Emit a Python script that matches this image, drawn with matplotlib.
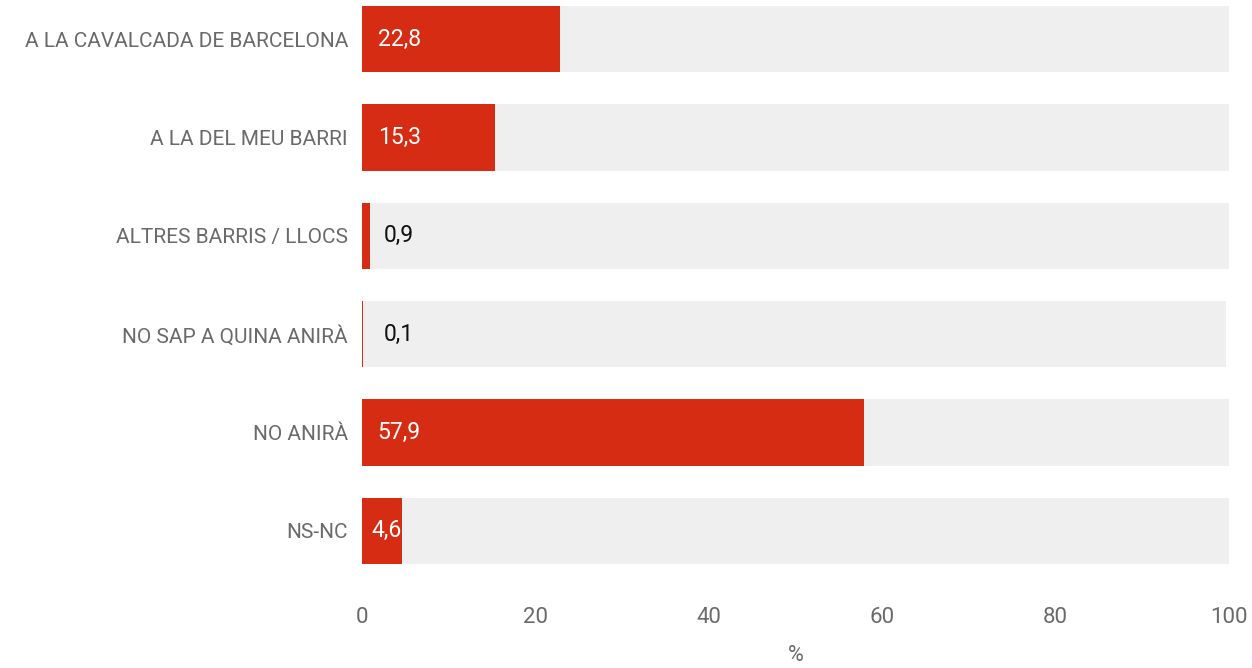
import matplotlib
matplotlib.use('Agg')
import matplotlib.pyplot as plt

categorias = ['A LA CAVALCADA DE BARCELONA', 'A LA DEL MEU BARRI', 'ALTRES BARRIS / LLOCS',
              'NO SAP A QUINA ANIRÀ', 'NO ANIRÀ', 'NS-NC']
valores = [22.8, 15.3, 0.9, 0.1, 57.9, 4.6]
totales = [100, 100, 100, 99.7, 100, 100]
etiquetas = ['22,8', '15,3', '0,9', '0,1', '57,9', '4,6']
ticks = [0, 20, 40, 60, 80, 100]

plt.rcParams['font.family'] = ['Roboto', 'DejaVu Sans']

rojo = '#d52c13'
gris = '#efefef'
texto = '#6a6a6a'

fig = plt.figure(figsize=(12.52, 6.68), dpi=100)
ax = fig.add_axes([362 / 1252, 104 / 668, 867 / 1252, 558 / 668])

y = list(range(len(categorias)))
alto = 0.673
ax.barh(y, totales, height=alto, color=gris)
ax.barh(y, valores, height=alto, color=rojo)

for i, v in enumerate(valores):
    if v > 10:
        ax.text(1.8, i, etiquetas[i], color='white', va='center', ha='left', fontsize=16.5)
    elif v > 2:
        ax.text(v, i, etiquetas[i], color='white', va='center', ha='right', fontsize=16.5)
    else:
        ax.text(2.5, i, etiquetas[i], color='#111111', va='center', ha='left', fontsize=16.5)

ax.set_xlim(0, 100)
ax.set_ylim(5.5 - (1 - alto) / 2, -0.5 + (1 - alto) / 2)
ax.set_yticks(y)
ax.set_yticklabels(categorias, fontsize=15, color=texto)
ax.set_xticks(ticks)
ax.set_xticklabels([str(t) for t in ticks], fontsize=16, color=texto)
ax.tick_params(axis='y', length=0, pad=10)
ax.tick_params(axis='x', length=0, pad=31)
ax.set_xlabel('%', fontsize=15.5, color=texto, labelpad=12.5)
for s in ax.spines.values():
    s.set_visible(False)

fig.savefig('out.png', dpi=100)
